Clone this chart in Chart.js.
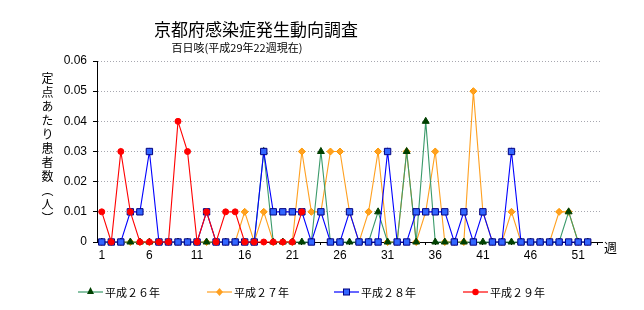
<!DOCTYPE html>
<html>
<head>
<meta charset="utf-8">
<script src="https://cdn.jsdelivr.net/npm/chart.js@4"></script>
<style>
  body { margin: 0; background: #fff; }
  #wrap { position: relative; width: 644px; height: 310px; font-family: "Noto Sans CJK JP", sans-serif; color: #000; }
  #wrap canvas { position: absolute; left: 0; top: 0; }
  .txt { position: absolute; white-space: nowrap; line-height: 1; }
  #title { left: 256px; top: 20px; font-size: 17px; transform: translateX(-50%); }
  #subtitle { left: 237px; top: 42px; font-size: 11px; transform: translateX(-50%); }
  #ytitle { left: 41px; top: 72px; font-size: 12px; writing-mode: vertical-rl; letter-spacing: 2px; }
  #weekLabel { left: 604px; top: 240px; font-size: 13px; }
  .legend-item { position: absolute; top: 284px; height: 16px; display: flex; align-items: center; font-size: 11px; }
  .legend-item svg { margin-right: 2px; }
</style>
</head>
<body>
<div id="wrap">
  <canvas id="chart" width="644" height="310"></canvas>
  <div class="txt" id="title">京都府感染症発生動向調査</div>
  <div class="txt" id="subtitle">百日咳(平成29年22週現在)</div>
  <div class="txt" id="ytitle">定点あたり患者数（人）</div>
  <div class="txt" id="weekLabel">週</div>
  <div id="legend"></div>
</div>
<script>
// weeks on the x axis
const weeks = [1,2,3,4,5,6,7,8,9,10,11,12,13,14,15,16,17,18,19,20,
  21,22,23,24,25,26,27,28,29,30,31,32,33,34,35,36,37,38,39,40,
  41,42,43,44,45,46,47,48,49,50,51,52,53];
const yTicks = [0, 0.01, 0.02, 0.03, 0.04, 0.05, 0.06];

// 定点あたり患者数
const h26 = [0,0,0,0,0,0,0,0,0,0, 0,0,0,0,0,0,0,0.03,0,0,
  0,0,0,0.03,0,0,0,0,0,0.01, 0,0,0.03,0,0.04,0,0,0,0,0,
  0,0,0,0,0,0,0,0,0,0.01, 0,0];
const h27 = [0,0,0,0,0,0,0,0,0,0, 0,0,0,0,0,0.01,0,0.01,0,0,
  0,0.03,0.01,0.01,0.03,0.03,0.01,0,0.01,0.03, 0,0,0.03,0,0.01,0.03,0,0,0,0.05,
  0.01,0,0,0.01,0,0,0,0,0.01,0.01, 0,0];
const h28 = [0,0,0,0.01,0.01,0.03,0,0,0,0, 0,0.01,0,0,0,0,0,0.03,0.01,0.01,
  0.01,0.01,0,0.01,0,0,0.01,0,0,0, 0.03,0,0,0.01,0.01,0.01,0.01,0,0.01,0,
  0.01,0,0,0.03,0,0,0,0,0,0, 0,0];
const h29 = [0.01,0,0.03,0.01,0,0,0,0,0.04,0.03, 0,0.01,0,0.01,0.01,0,0,0,0,0,
  0,0.01];

const seriesNames = ['平成２６年', '平成２７年', '平成２８年', '平成２９年'];

const styles = [
  { line: '#3a9a6a', fill: '#004000', edge: '#004000', shape: 'triangle', r: 4, order: 2 },
  { line: '#ffa020', fill: '#ffa020', edge: '#ff9900', shape: 'rectRot', r: 3.5, order: 3 },
  { line: '#0000ff', fill: '#3366ff', edge: '#000080', shape: 'rect', r: 4.5, order: 1 },
  { line: '#ff0000', fill: '#ff0000', edge: '#ff0000', shape: 'circle', r: 3, order: 0 }
];
const allData = [h26, h27, h28, h29];

new Chart('chart', {
  type: 'line',
  data: {
    labels: weeks,
    datasets: allData.map((d, i) => ({
      label: seriesNames[i],
      data: d,
      order: styles[i].order,
      borderColor: styles[i].line,
      borderWidth: 1.1,
      backgroundColor: styles[i].fill,
      pointBackgroundColor: styles[i].fill,
      pointBorderColor: styles[i].edge,
      pointBorderWidth: 1,
      pointStyle: styles[i].shape,
      pointRadius: styles[i].r,
      tension: 0,
      clip: false
    }))
  },
  options: {
    responsive: false,
    animation: false,
    layout: { padding: { left: 0, top: 61, right: 42, bottom: 48 } },
    plugins: {
      legend: { display: false },
      tooltip: { enabled: false }
    },
    scales: {
      x: {
        offset: true,
        afterFit: (scale) => { scale.height = 20; },
        grid: { drawOnChartArea: false, tickLength: 3, tickColor: '#000' },
        border: { color: '#000', width: 1 },
        ticks: {
          autoSkip: false,
          maxRotation: 0,
          padding: 3,
          color: '#000',
          font: { family: 'Liberation Sans, Arial', size: 12 },
          callback: (v, i) => (i % 5 === 0 ? String(weeks[i]) : '')
        }
      },
      y: {
        min: 0,
        max: 0.06,
        afterFit: (scale) => { scale.width = 97; },
        afterBuildTicks: (scale) => { scale.ticks = yTicks.map(v => ({ value: v })); },
        grid: { color: '#a8a8b0', tickLength: 4, tickColor: '#000' },
        border: { color: '#000', width: 1, dash: [1, 2] },
        ticks: {
          padding: 6,
          color: '#000',
          font: { family: 'Liberation Sans, Arial', size: 12 },
          callback: (v) => (v === 0 ? '0' : v.toFixed(2))
        }
      }
    }
  }
});

// legend: line + marker, drawn as small svg samples
const legendX = [78, 207, 334, 463];
const legend = document.getElementById('legend');
styles.forEach((s, i) => {
  let mark;
  if (s.shape === 'triangle') mark = '<polygon points="12.5,3 16,10 9,10" fill="' + s.fill + '"/>';
  else if (s.shape === 'rectRot') mark = '<polygon points="12.5,4 16,8 12.5,12 9,8" fill="' + s.fill + '"/>';
  else if (s.shape === 'rect') mark = '<rect x="9.5" y="5" width="6" height="6" fill="' + s.fill + '" stroke="' + s.edge + '"/>';
  else mark = '<circle cx="12.5" cy="8" r="3.2" fill="' + s.fill + '"/>';
  const item = document.createElement('div');
  item.className = 'legend-item';
  item.style.left = legendX[i] + 'px';
  item.innerHTML = '<svg width="25" height="16"><line x1="0" y1="8" x2="25" y2="8" stroke="' + s.line + '" stroke-width="1.2"/>' + mark + '</svg><span>' + seriesNames[i] + '</span>';
  legend.appendChild(item);
});
</script>
</body>
</html>
